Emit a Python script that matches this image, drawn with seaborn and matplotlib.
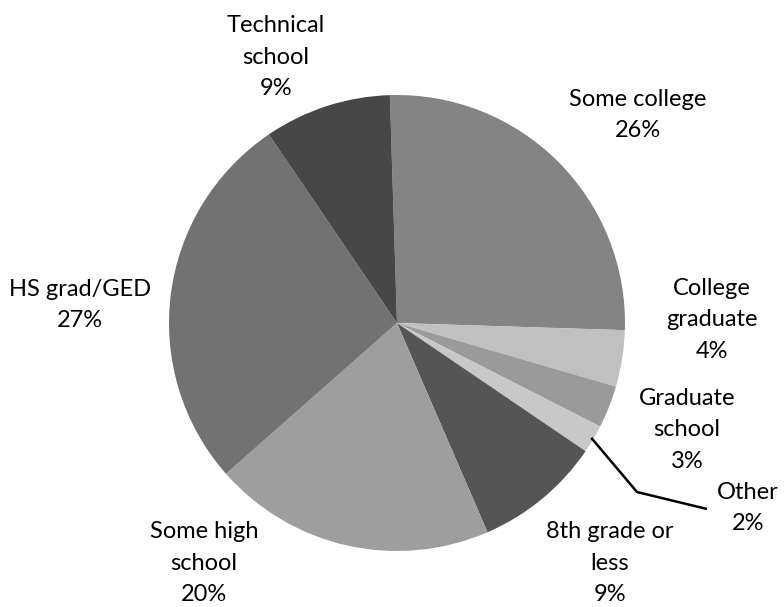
import numpy as np
import matplotlib
matplotlib.use('Agg')
import matplotlib.pyplot as plt
import seaborn as sns

# 数据
categories = ['Some college', 'College\ngraduate', 'Graduate\nschool', 'Other',
              '8th grade or\nless', 'Some high\nschool', 'HS grad/GED', 'Technical\nschool']
shares = [26, 4, 3, 2, 9, 20, 27, 9]
pct_labels = ['26%', '4%', '3%', '2%', '9%', '20%', '27%', '9%']
colors = ['#848484', '#c0c0c0', '#9a9a9a', '#c8c8c8',
          '#555555', '#9e9e9e', '#727272', '#474747']

sns.set_theme(style='white')
plt.rcParams['font.family'] = ['Lato', 'DejaVu Sans']

W, H = 784, 607
fig = plt.figure(figsize=(W / 100, H / 100), dpi=100)
ax = fig.add_axes([0, 0, 1, 1])

cx, cy, r = 397, H - 323, 228
wedges, _ = ax.pie(shares, colors=colors, startangle=91.8, counterclock=False,
                   center=(cx, cy), radius=r, frame=True,
                   wedgeprops=dict(linewidth=0))
ax.set_xlim(0, W)
ax.set_ylim(0, H)
ax.set_aspect('equal')
ax.axis('off')

# 标签位置 (像素)
label_pos = [(638, 115), (712, 320), (687, 430), (748, 508),
             (610, 563), (204, 563), (80, 305), (276, 57)]
for name, pct, (x, y) in zip(categories, pct_labels, label_pos):
    ax.text(x, H - y, f'{name}\n{pct}', ha='center', va='center',
            multialignment='center', fontsize=17, linespacing=1.6, color='black')

# Other 的引导线
w = wedges[3]
mid = np.deg2rad((w.theta1 + w.theta2) / 2)
sx, sy = cx + r * 0.99 * np.cos(mid), cy + r * 0.99 * np.sin(mid)
ax.plot([sx, 637, 707], [sy, H - 492, H - 509], color='black', lw=1.8,
        solid_capstyle='butt')

fig.savefig('out.png', dpi=100)
